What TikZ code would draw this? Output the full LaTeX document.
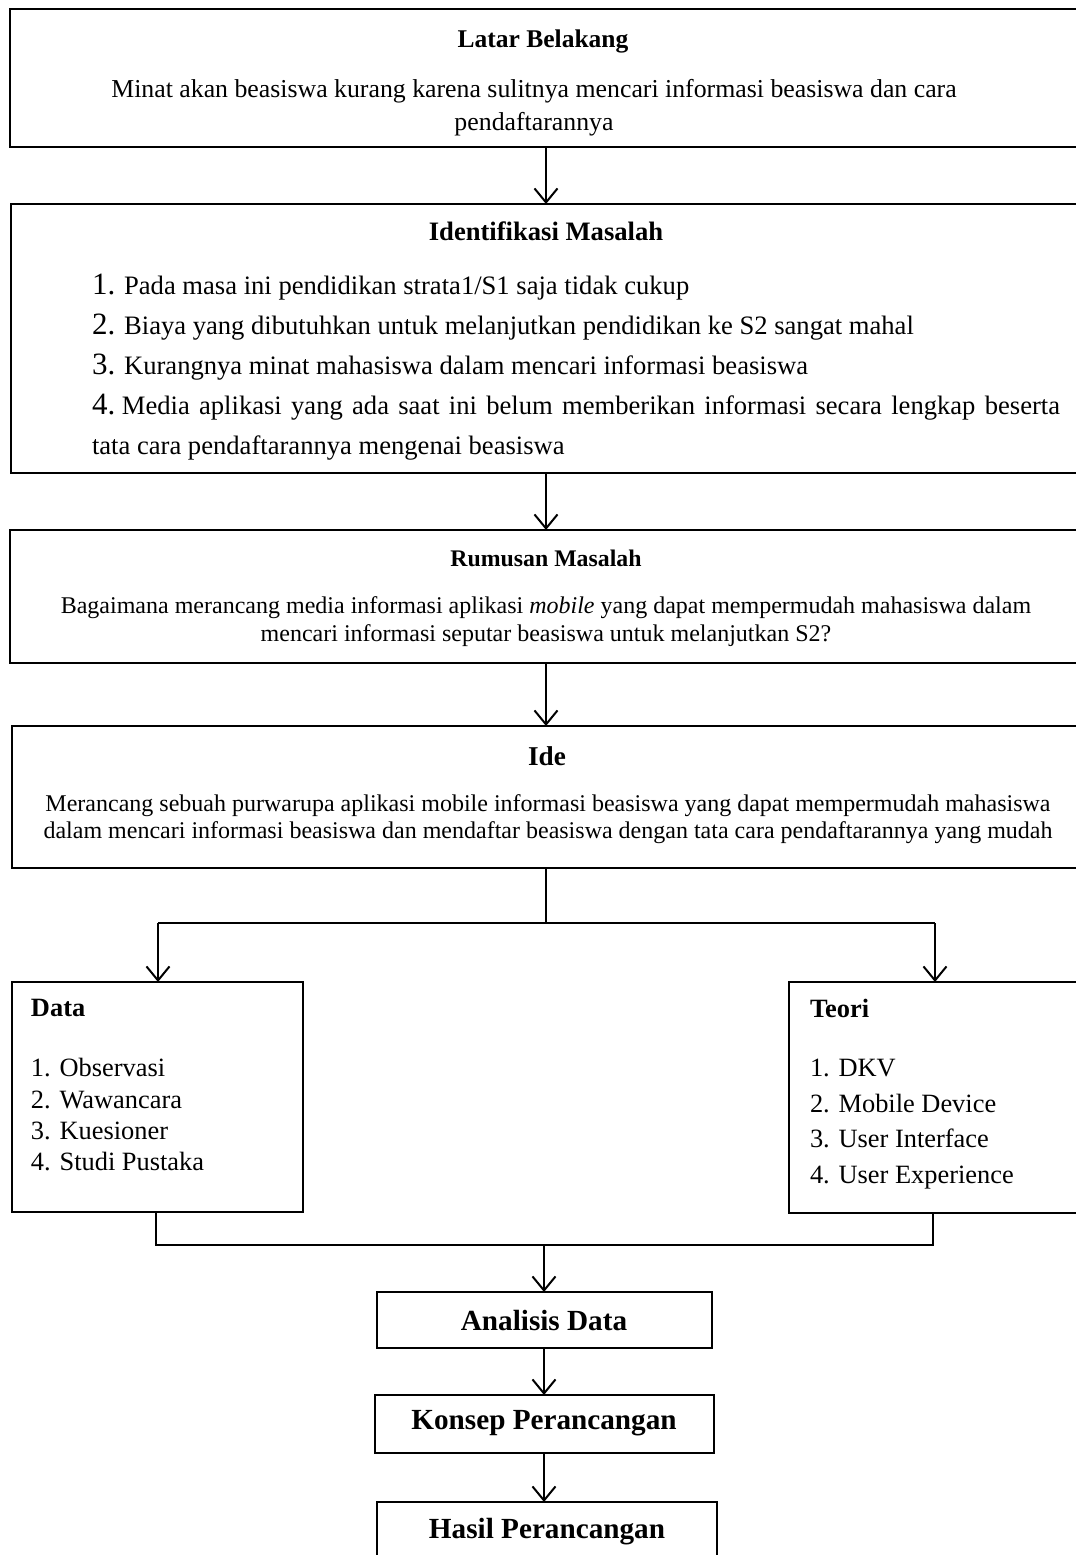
\documentclass[tikz,border=0pt]{standalone}
\usepackage{fontspec}
\setmainfont{Liberation Serif}
\usetikzlibrary{arrows.meta}
\begin{document}
\begin{tikzpicture}[x=0.5pt,y=-0.5pt,
  box/.style={draw, line width=0.7pt, anchor=north west, inner sep=0pt, outer sep=0pt},
  arr/.style={line width=1pt, -{Straight Barb[length=7pt,width=11.5pt]}},
  conn/.style={line width=0.6pt},
  txt/.style={inner sep=0pt, outer sep=0pt},
  ttl/.style={txt, font=\bfseries\fontsize{13}{15}\selectfont},
  item/.style={txt, anchor=base west, font=\fontsize{13.3}{20}\selectfont},
  sitem/.style={txt, anchor=base west, font=\fontsize{13.2}{15}\selectfont},
  big/.style={txt, font=\bfseries\fontsize{14.6}{17}\selectfont}
]
\useasboundingbox (0,0) rectangle (1076,1555);
\newcommand{\num}[1]{{\fontsize{15.5}{15}\selectfont #1}}

% boxes
\node[box, line width=1.4pt, minimum width=540pt, minimum height=69pt] (b1) at (10,9) {};
\node[box, minimum width=539.5pt, minimum height=134.5pt] (b2) at (11,204) {};
\node[box, minimum width=540pt, minimum height=66.5pt] (b3) at (10,530) {};
\node[box, minimum width=539pt, minimum height=71pt] (b4) at (12,726) {};
\node[box, minimum width=145.5pt, minimum height=115pt] (data) at (12,982) {};
\node[box, minimum width=150.5pt, minimum height=115.5pt] (teori) at (789,982) {};
\node[box, minimum width=167.5pt, minimum height=28pt] (ana) at (377,1292) {};
\node[box, minimum width=169.5pt, minimum height=29pt] (kon) at (375,1395) {};
\node[box, minimum width=170pt, minimum height=40pt] (has) at (377,1502) {};

% texts
\node[txt, font=\bfseries\fontsize{12.75}{15}\selectfont] (t1) at (543,41) {Latar Belakang};
\node[txt, align=center, font=\fontsize{12.9}{16.5}\selectfont] (t1b) at (534,108) {Minat akan beasiswa kurang karena sulitnya mencari informasi beasiswa dan cara\\pendaftarannya};

\node[txt, font=\bfseries\fontsize{13.3}{15}\selectfont] (t2) at (546,231) {Identifikasi Masalah};
\node[item] (i1) at (92,294) {\num{1.} Pada masa ini pendidikan strata1/S1 saja tidak cukup};
\node[item] (i2) at (92,334) {\num{2.} Biaya yang dibutuhkan untuk melanjutkan pendidikan ke S2 sangat mahal};
\node[item] (i3) at (92,374) {\num{3.} Kurangnya minat mahasiswa dalam mencari informasi beasiswa};
\node[item] (i4) at (92,414) {\makebox[484pt][s]{\num{4.}\hspace{0.25em}Media aplikasi yang ada saat ini belum memberikan informasi secara lengkap beserta}};
\node[item] (i4b) at (92,454) {tata cara pendaftarannya mengenai beasiswa};

\node[txt, font=\bfseries\fontsize{11.9}{13}\selectfont] (t3) at (546,558) {Rumusan Masalah};
\node[txt, align=center, font=\fontsize{12}{14}\selectfont] (t3b) at (546,622) {Bagaimana merancang media informasi aplikasi \textit{mobile} yang dapat mempermudah mahasiswa dalam\\mencari informasi seputar beasiswa untuk melanjutkan S2?};

\node[txt, font=\bfseries\fontsize{13.6}{15}\selectfont] (t4) at (547,756) {Ide};
\node[txt, align=center, font=\fontsize{12}{13.5}\selectfont] (t4b) at (548,819) {Merancang sebuah purwarupa aplikasi mobile informasi beasiswa yang dapat mempermudah mahasiswa\\dalam mencari informasi beasiswa dan mendaftar beasiswa dengan tata cara pendaftarannya yang mudah};

\node[ttl, font=\bfseries\fontsize{13.2}{15}\selectfont, anchor=west] (t5) at (31,1008) {Data};
\node[sitem] (d1) at (31,1076) {1. Observasi};
\node[sitem] (d2) at (31,1108) {2. Wawancara};
\node[sitem] (d3) at (31,1139) {3. Kuesioner};
\node[sitem] (d4) at (31,1170) {4. Studi Pustaka};

\node[ttl, font=\bfseries\fontsize{13.2}{15}\selectfont, anchor=west] (t6) at (810,1008) {Teori};
\node[sitem] (e1) at (810,1076) {1. DKV};
\node[sitem] (e2) at (810,1112) {2. Mobile Device};
\node[sitem] (e3) at (810,1147) {3. User Interface};
\node[sitem] (e4) at (810,1183) {4. User Experience};

\node[big] (t7) at (544,1320) {Analisis Data};
\node[big] (t8) at (544,1423) {Konsep Perancangan};
\node[big] (t9) at (547,1532) {Hasil Perancangan};

% connectors
\coordinate (c1) at (546,0);
\draw[arr] (b1.south -| c1) -- (b2.north -| c1);
\draw[arr] (b2.south -| c1) -- (b3.north -| c1);
\draw[arr] (b3.south -| c1) -- (b4.north -| c1);
\coordinate (split) at (546,923);
\coordinate (sl) at (158,923);
\coordinate (sr) at (935,923);
\draw[conn] (b4.south -| split) -- (split);
\draw[line width=1pt] (sl) -- (sr);
\draw[arr] (sl) -- (data.north -| sl);
\draw[arr] (sr) -- (teori.north -| sr);
\coordinate (jl) at (156,1245);
\coordinate (jr) at (933,1245);
\coordinate (jm) at (544,1245);
\draw[conn] (data.south -| jl) -- (jl) -- (jr) -- (teori.south -| jr);
\draw[arr] (jm) -- (ana.north -| jm);
\draw[arr] (ana.south -| jm) -- (kon.north -| jm);
\draw[arr] (kon.south -| jm) -- (has.north -| jm);
\end{tikzpicture}
\end{document}
